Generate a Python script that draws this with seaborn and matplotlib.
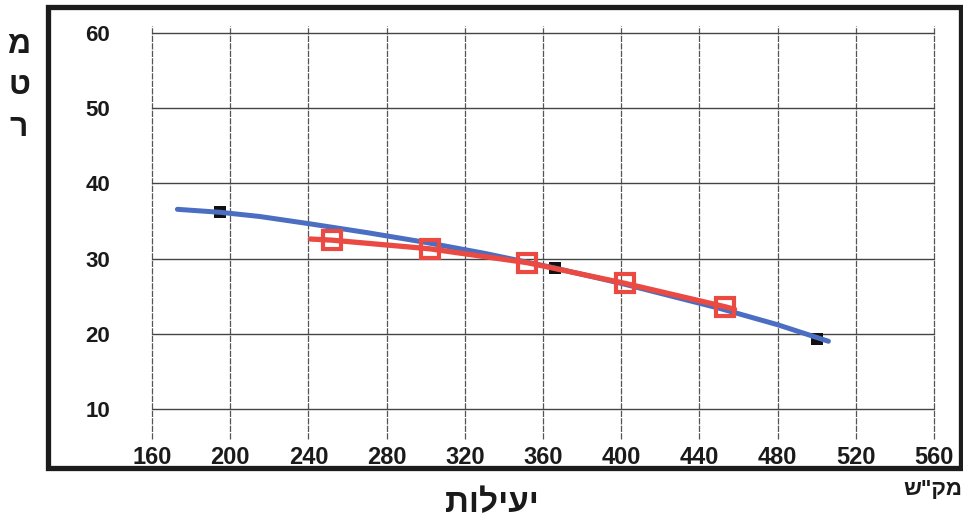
import matplotlib
matplotlib.use('Agg')
import matplotlib.pyplot as plt
import seaborn as sns
import pandas as pd
from matplotlib.patches import Rectangle

# Values
curve_x = [173, 195, 215, 240, 270, 300, 330, 365, 400, 450, 480, 506]
curve_y = [36.55, 36.15, 35.6, 34.65, 33.45, 32.15, 30.7, 28.8, 26.7, 23.4, 21.2, 19.0]

points_x = [195, 366, 500]
points_y = [36.15, 28.7, 19.3]

red_x = [241, 252, 302, 352, 402, 453, 458]
red_y = [32.6, 32.45, 31.3, 29.45, 26.7, 23.6, 23.25]

marker_x = [252, 302, 352, 402, 453]
marker_y = [32.45, 31.3, 29.45, 26.7, 23.6]

x_ticks = [160, 200, 240, 280, 320, 360, 400, 440, 480, 520, 560]
y_ticks = [10, 20, 30, 40, 50, 60]

y_title = ['מ', 'ט', 'ר']
x_title = 'יעילות'
unit_text = 'מק"ש'

# Build dataframes
df_curve = pd.DataFrame({'x': curve_x, 'y': curve_y})
df_points = pd.DataFrame({'x': points_x, 'y': points_y})
df_red = pd.DataFrame({'x': red_x, 'y': red_y})
df_marks = pd.DataFrame({'x': marker_x, 'y': marker_y})

sns.set_style('white')
plt.rcParams['font.family'] = ['Liberation Sans', 'DejaVu Sans']
plt.rcParams['font.weight'] = 'bold'

fig = plt.figure(figsize=(9.63, 5.24), dpi=100)
ax = fig.add_axes([152 / 963, 1 - 439 / 524, 782 / 963, 413.5 / 524])

# Black data points under the blue curve
sns.scatterplot(data=df_points, x='x', y='y', ax=ax, marker='s', s=75,
                color='#111111', edgecolor='#111111', linewidth=0, zorder=3)

# Blue curve
sns.lineplot(data=df_curve, x='x', y='y', ax=ax, sort=False, estimator=None,
             color='#4b6ec2', linewidth=3.6, zorder=4)

# Red series with hollow squares
sns.lineplot(data=df_red, x='x', y='y', ax=ax, sort=False, estimator=None,
             color='#ea4a42', linewidth=3.8, zorder=5)
ax.plot(df_marks['x'], df_marks['y'], linestyle='none', marker='s', markersize=13,
        markerfacecolor='none', markeredgecolor='#ea4a42', markeredgewidth=3, zorder=6)

ax.set_xlim(160, 560)
ax.set_ylim(6, 61)
ax.set_xticks(x_ticks)
ax.set_yticks(y_ticks)
ax.set_xlabel('')
ax.set_ylabel('')

# Grid lines
ax.grid(False)
for v in x_ticks:
    ax.axvline(v, color='#555555', linewidth=0.9, linestyle=(0, (5, 1)),
               zorder=1, clip_on=False)
for v in y_ticks:
    ax.axhline(v, color='#444444', linewidth=1.0, zorder=1, clip_on=False)

for side in ['top', 'right', 'left', 'bottom']:
    ax.spines[side].set_visible(False)

ax.tick_params(axis='both', length=0)
ax.tick_params(axis='y', pad=30, labelsize=16)
ax.tick_params(axis='x', pad=5, labelsize=17)
for lab in ax.get_xticklabels() + ax.get_yticklabels():
    lab.set_fontweight('bold')
    lab.set_color('#1a1a1a')

# Outer frame
fig.patches.append(Rectangle((47.5 / 963, 1 - 467.5 / 524), 913 / 963, 460.5 / 524,
                             transform=fig.transFigure, fill=False,
                             linewidth=3.8, edgecolor='#1c1c1c'))

# Titles (Hebrew shown right to left)
for i, ch in enumerate(y_title):
    fig.text(19 / 963, 1 - (45 + 41.5 * i) / 524, ch, ha='center', va='center',
             fontsize=23, fontweight='bold', color='#1a1a1a')
fig.text(492 / 963, 1 - 504 / 524, x_title[::-1], ha='center', va='center',
         fontsize=24, fontweight='bold', color='#1a1a1a')
fig.text(903 / 963, 1 - 495 / 524, unit_text[::-1], ha='left', va='baseline',
         fontsize=16, fontweight='bold', color='#1a1a1a')

plt.savefig('out.png', dpi=100)
